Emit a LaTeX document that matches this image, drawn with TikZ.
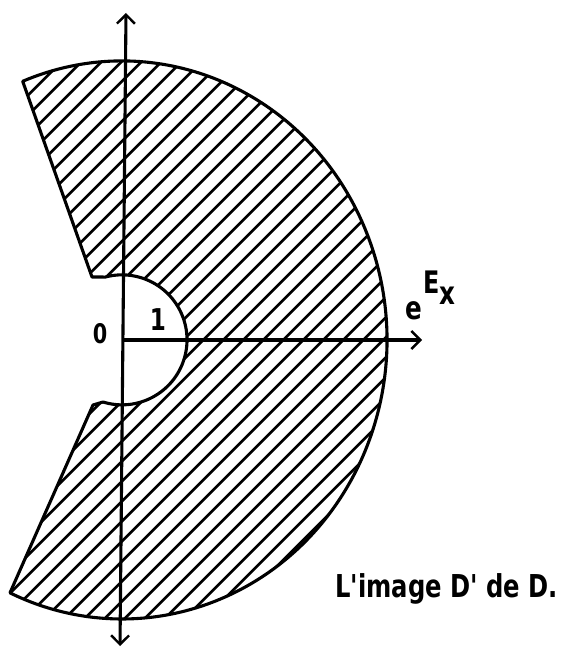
\documentclass[tikz,border=0pt]{standalone}
\usepackage{fontspec}
\newfontfamily\labfont[FakeStretch=0.77]{DejaVu Sans}
\usetikzlibrary{arrows.meta}
\begin{document}
\begin{tikzpicture}[x=1pt,y=1pt,
  barb/.tip={Straight Barb[length=9pt,width=18pt,line width=2.4pt]},
  axis/.style={line width=3.1pt,-barb},
  outline/.style={line width=3.1pt,line join=round},
  hatch/.style={line width=2.6pt},
  lbl/.style={inner sep=0pt,font=\labfont\bfseries}]
\useasboundingbox (0,0) rectangle (567,-650);
\coordinate (O) at (122,-340);
% region
\def\region{(22.7,-81.3) arc[start angle=112,end angle=-115,x radius=265,y radius=279]
  -- (93,-405) -- (103,-402)
  arc[start angle=-107,end angle=105,radius=65] -- (92,-277) -- cycle}
\begin{scope}
  \clip \region;
  \foreach \c in {-1103.3,-1083.3,...,0}
    \draw[hatch] (0,\c) -- (450,\c+450);
\end{scope}
\draw[outline] \region;
% axes
\coordinate (ybot) at (120,-646);
\coordinate (ytop) at (126,-13);
\coordinate (xend) at (422,-340);
\draw[axis,barb-barb] (ybot) -- (ytop);
\draw[axis] (O) -- (xend);
% labels
\node[lbl,font=\labfont\bfseries\fontsize{27}{27}\selectfont] (zero) at (100,-334) {0};
\node[lbl,font=\labfont\bfseries\fontsize{30}{30}\selectfont] (one) at (158,-320) {1};
\node[lbl,font=\labfont\bfseries\fontsize{32}{32}\selectfont] (e) at (414,-311) {e};
\node[lbl,font=\labfont\bfseries\fontsize{31}{31}\selectfont] (E) at (432,-282) {E};
\node[lbl,font=\labfont\bfseries\fontsize{32}{32}\selectfont] (xx) at (447,-296) {x};
\node[lbl,anchor=base west,font=\labfont\bfseries\fontsize{31.5}{31.5}\selectfont] (cap) at (335,-597) {L'image D' de D.};
\end{tikzpicture}
\end{document}
